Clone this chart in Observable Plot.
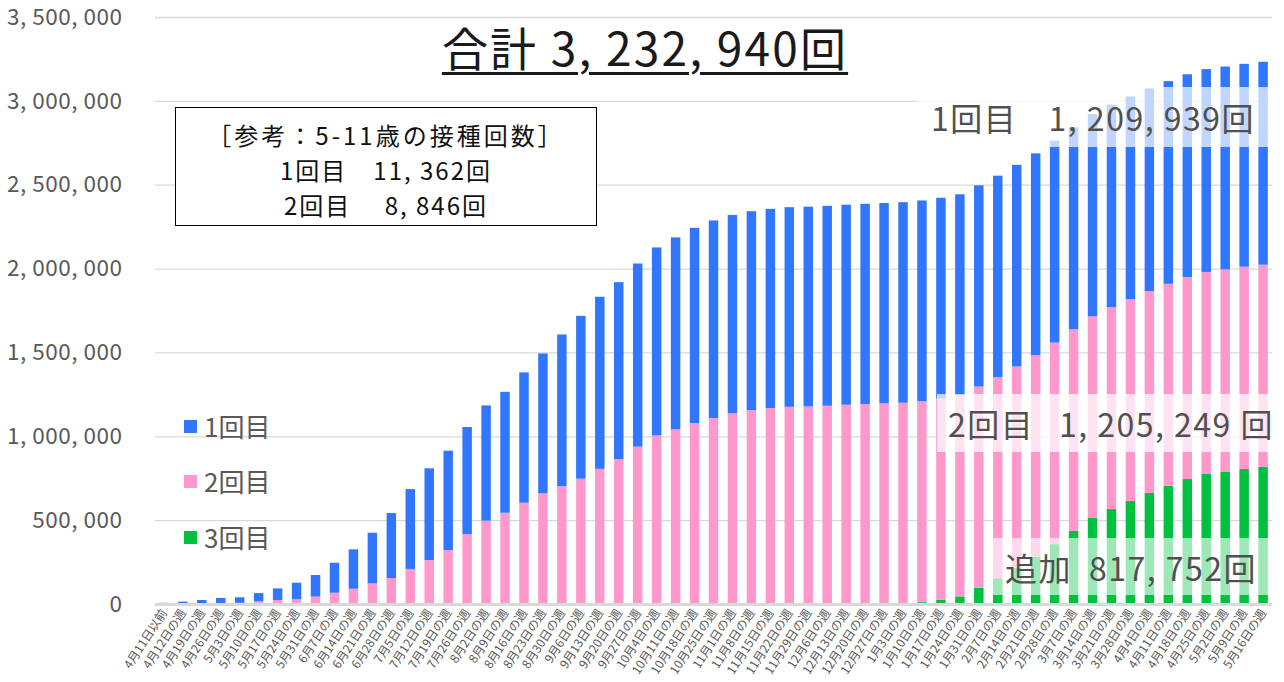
<!DOCTYPE html>
<html><head><meta charset="utf-8">
<script src="https://cdn.jsdelivr.net/npm/d3@7"></script>
<script src="https://cdn.jsdelivr.net/npm/@observablehq/plot@0.6"></script>
<style>
html,body{margin:0;padding:0;background:#fff;}
#wrap{position:relative;width:1284px;height:682px;overflow:hidden;font-family:"Noto Sans CJK JP","Noto Sans",sans-serif;}
#wrap svg{position:absolute;left:0;top:0;}
.ov{position:absolute;white-space:pre;}
#title{left:645px;top:16px;transform:translateX(-50%);font-size:46px;letter-spacing:2.2px;color:#1a1a1a;text-decoration:underline;text-decoration-thickness:3px;text-underline-offset:6px;line-height:60px;}
#refbox{left:175px;top:107px;width:422px;height:119px;border:1.3px solid #000;background:#fff;box-sizing:border-box;}
.rl{left:175px;width:422px;text-align:center;font-size:24px;line-height:normal;color:#111;}
.lg{left:184px;font-size:26px;color:#595959;line-height:30px;display:flex;align-items:center;}
.lg i{display:inline-block;width:13px;height:13px;margin-right:7px;}
.ann{color:#505050;font-size:32px;letter-spacing:1.5px;display:flex;align-items:center;box-sizing:border-box;}
</style></head><body><div id="wrap"></div>
<script>
const weeks = ["4月11日以前","4月12日の週","4月19日の週","4月26日の週","5月3日の週","5月10日の週","5月17日の週","5月24日の週","5月31日の週","6月7日の週","6月14日の週","6月21日の週","6月28日の週","7月5日の週","7月12日の週","7月19日の週","7月26日の週","8月2日の週","8月9日の週","8月16日の週","8月23日の週","8月30日の週","9月6日の週","9月13日の週","9月20日の週","9月27日の週","10月4日の週","10月11日の週","10月18日の週","10月25日の週","11月1日の週","11月8日の週","11月15日の週","11月22日の週","11月29日の週","12月6日の週","12月13日の週","12月20日の週","12月27日の週","1月3日の週","1月10日の週","1月17日の週","1月24日の週","1月31日の週","2月7日の週","2月14日の週","2月21日の週","2月28日の週","3月7日の週","3月14日の週","3月21日の週","3月28日の週","4月4日の週","4月11日の週","4月18日の週","4月25日の週","5月2日の週","5月9日の週","5月16日の週"];

// 1回目 (cumulative, top segment)
const dose1 = [7000,13000,22000,32000,33000,49000,69000,99000,129000,179000,235000,302000,387000,476000,547000,592000,638000,687000,721000,777000,834000,904000,971000,1026000,1055000,1092000,1121000,1145000,1164000,1178000,1183000,1186000,1188000,1190000,1191000,1192000,1193000,1194000,1195000,1196000,1197000,1198000,1199000,1200000,1201000,1202000,1203000,1204000,1205000,1206000,1207000,1207500,1208000,1208500,1209000,1209300,1209500,1209700,1209939];
// 2回目 (cumulative, middle segment)
const dose2 = [0,1000,2000,4000,7000,16000,24000,28000,44000,67000,91000,123000,155000,209000,262000,322000,417000,497000,544000,604000,660000,703000,747000,806000,864000,938000,1005000,1041000,1079000,1109000,1137000,1156000,1168000,1176000,1178000,1182000,1188000,1192000,1196000,1197000,1198000,1198500,1199000,1199500,1200000,1200500,1201000,1201500,1202000,1202500,1203000,1203500,1204000,1204300,1204600,1204800,1205000,1205100,1205249];
// 3回目 (cumulative, bottom segment)
const dose3 = [0,0,0,0,0,0,0,0,0,0,0,0,0,0,0,0,0,0,0,0,0,0,0,0,0,0,0,0,0,0,0,0,0,0,0,0,0,0,0,3000,11000,26000,45000,97000,153000,216000,283000,357000,436000,513000,567000,615000,662000,705000,745000,775000,790000,806000,817752];

const seriesNames = ["1回目","2回目","3回目"];
const seriesColors = ["#3076ff","#ff99cc","#00c040"];
const yTicks = [0,500000,1000000,1500000,2000000,2500000,3000000,3500000];

const titleText = "合計 3, 232, 940回";
const refLines = ["［参考：5-11歳の接種回数］","1回目　11, 362回","2回目　 8, 846回"];
const annLabels = ["1回目","2回目","追加"];
const annValues = ["1, 209, 939回","1, 205, 249 回","817, 752回"];

const rows = [];
weeks.forEach((w,i)=>{
  rows.push({week:w, series:"3回目", value:dose3[i]});
  rows.push({week:w, series:"2回目", value:dose2[i]});
  rows.push({week:w, series:"1回目", value:dose1[i]});
});
const fmt = d => d3.format(",")(d).replace(/,/g, ", ");

const chart = Plot.plot({
  width:1284, height:682,
  marginTop:17, marginBottom:78, marginLeft:155, marginRight:12,
  style:{fontFamily:'"Noto Sans CJK JP","Noto Sans",sans-serif', background:"transparent", color:"#595959"},
  x:{type:"band", domain:weeks, paddingInner:0.5, paddingOuter:0.22, label:null},
  y:{domain:[0,3500000], label:null},
  color:{domain:seriesNames, range:seriesColors},
  marks:[
    Plot.gridY(yTicks, {stroke:"#d9d9d9", strokeOpacity:1, strokeWidth:1.3}),
    Plot.barY(rows, {x:"week", y:"value", fill:"series"}),
    Plot.ruleY([0], {stroke:"#d9d9d9", strokeWidth:3}),
    Plot.axisY(yTicks, {tickSize:0, tickPadding:33, tickFormat:fmt, fontSize:22.5, label:null}),
    Plot.axisX({tickSize:0, tickRotate:-57, tickPadding:6, fontSize:12, label:null})
  ]
});
const wrap = document.getElementById("wrap");
wrap.appendChild(chart);
chart.querySelectorAll('g[aria-label="y-axis tick label"] text').forEach(t => t.style.letterSpacing = "0.5px");

function add(cls, id, html, style){
  const d = document.createElement("div");
  d.className = "ov " + cls; if (id) d.id = id;
  d.innerHTML = html; Object.assign(d.style, style||{});
  wrap.appendChild(d); return d;
}
add("", "title", titleText);
add("", "refbox", "");
const refTops = [117, 152.2, 187.4];
const refSpacing = ["3px","2px","2px"];
refLines.forEach((l,i)=>add("rl", null, l, {top:refTops[i]+"px", letterSpacing:refSpacing[i]}));
const lgTops = [411, 466, 522];
seriesNames.forEach((s,i)=>{
  add("lg", null, `<i style="background:${seriesColors[i]}"></i>${s}`, {top:lgTops[i]+"px"});
});
const annBoxes = [
  {left:916, top:87, w:357, h:60, pl:15, pr:18, bg:"rgba(255,255,255,0.70)"},
  {left:937, top:394, w:340, h:58, pl:11, pr:3, bg:"rgba(255,255,255,0.72)"},
  {left:993, top:538, w:282, h:57, pl:12, pr:18, bg:"rgba(255,255,255,0.62)"}
];
annBoxes.forEach((b,i)=>{
  add("ann", null, `<span>${annLabels[i]}</span><span style="margin-left:auto">${annValues[i]}</span>`,
    {left:b.left+"px", top:b.top+"px", width:b.w+"px", height:b.h+"px", paddingLeft:b.pl+"px", paddingRight:b.pr+"px", background:b.bg});
});
</script>
</body></html>
